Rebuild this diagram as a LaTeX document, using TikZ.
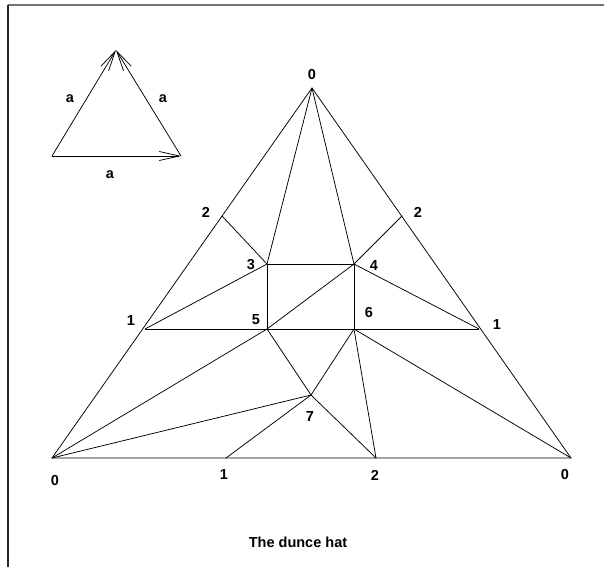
\documentclass[tikz,border=0pt]{standalone}
\usepackage{fontspec}
\setmainfont{Liberation Sans}
\usetikzlibrary{arrows.meta}

\begin{document}
\begin{tikzpicture}[x=1pt,y=-1pt,line width=0.75pt,
    lbl/.style={font=\bfseries\fontsize{14.5}{16}\selectfont, inner sep=0pt},
    barb/.style={-{Straight Barb[length=20pt,width=9pt,line width=0.75pt]}}]
    \useasboundingbox (0,0) rectangle (604,567);
    % Рамка: только сверху и слева.
    \draw[black!55, line width=2pt] (8,5.5) -- (604,5.5);
    \draw[black!85, line width=1.5pt] (8,5) -- (8,567);

    % Маленький треугольник со стрелками.
    \coordinate (sl) at (52,156);
    \coordinate (sr) at (181,156);
    \coordinate (st) at (116,50);
    \draw[barb] (sl) -- (sr);
    \draw[barb] (sl) -- (st);
    \draw[barb] (sr) -- (st);
    \node[lbl] (al) at (70,99) {a};
    \node[lbl] (ar) at (163,99) {a};
    \node[lbl] (ab) at (110,175) {a};

    % Вершины большого треугольника.
    \coordinate (top) at (312,88);
    \coordinate (bl) at (52,458);
    \coordinate (br) at (571,458);
    \coordinate (l2) at (222,216);
    \coordinate (r2) at (402,216);
    \coordinate (l1) at (145,329);
    \coordinate (r1) at (479,329);
    \coordinate (p3) at (267,264);
    \coordinate (p4) at (354,264);
    \coordinate (p5) at (267,329);
    \coordinate (p6) at (354,329);
    \coordinate (p7) at (311,395);
    \coordinate (b1) at (226,458);
    \coordinate (b2) at (376,458);

    % Треугольник и разбиение.
    \draw (top) -- (bl) -- (br) -- cycle;
    \draw (top) -- (p3);
    \draw (top) -- (p4);
    \draw (l2) -- (p3);
    \draw (r2) -- (p4);
    \draw (p3) -- (p4) -- (p6);
    \draw (p3) -- (p5);
    \draw (l1) -- (p3);
    \draw (r1) -- (p4);
    \draw (l1) -- (r1);
    \draw (p4) -- (p5);
    \draw (bl) -- (p5);
    \draw (bl) -- (p7);
    \draw (br) -- (p6);
    \draw (p5) -- (p7) -- (p6);
    \draw (p7) -- (b1);
    \draw (p7) -- (b2);
    \draw (p6) -- (b2);

    % Подписи.
    \node[lbl] (n0t) at (312,75) {0};
    \node[lbl] (n2l) at (206,212) {2};
    \node[lbl] (n2r) at (418,212) {2};
    \node[lbl] (n3) at (251,265) {3};
    \node[lbl] (n4) at (374,266) {4};
    \node[lbl] (n1l) at (131,321) {1};
    \node[lbl] (n1r) at (497,325) {1};
    \node[lbl] (n5) at (256,320) {5};
    \node[lbl] (n6) at (369,313) {6};
    \node[lbl] (n7) at (310,417) {7};
    \node[lbl] (n0l) at (55,481) {0};
    \node[lbl] (n1b) at (224,475) {1};
    \node[lbl] (n2b) at (375,475) {2};
    \node[lbl] (n0r) at (565,475) {0};
    \node[lbl] (title) at (298,542) {The dunce hat};
\end{tikzpicture}
\end{document}
